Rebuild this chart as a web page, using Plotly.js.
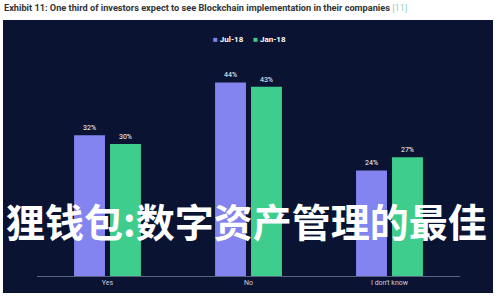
<!DOCTYPE html>
<html><head><meta charset="utf-8">
<script src="https://cdn.plot.ly/plotly-3.0.1.min.js"></script>
<style>html,body{margin:0;padding:0;background:#fff}#c{width:500px;height:300px}</style>
</head><body><div id="c"></div>
<script>
var categories = ["Yes", "No", "I don't know"];
var jul18 = [32, 44, 24];
var jan18 = [30, 43, 27];
var seriesNames = ["Jul-18", "Jan-18"];
var seriesColors = ["#8384f0", "#3ecd8c"];
var titleText = "Exhibit 11: One third of investors expect to see Blockchain implementation in their companies";
var refText = "[11]";
var overlayText = "狸钱包:数字资产管理的最佳";

function lbl(v){return v.map(function(x){return x+"%";});}
var traces = [
  {type:"bar", x:categories, y:jul18, name:seriesNames[0], marker:{color:seriesColors[0]},
   text:lbl(jul18), textposition:"outside", textfont:{color:"#ffffff", size:7, family:"Roboto"}, cliponaxis:false},
  {type:"bar", x:categories, y:jan18, name:seriesNames[1], marker:{color:seriesColors[1]},
   text:lbl(jan18), textposition:"outside", textfont:{color:"#ffffff", size:7, family:"Roboto"}, cliponaxis:false}
];
var legendText = "<span style='color:"+seriesColors[0]+"'>■</span> <b>"+seriesNames[0]+"</b>     " +
                 "<span style='color:"+seriesColors[1]+"'>■</span> <b>"+seriesNames[1]+"</b>";
var layout = {
  width:500, height:300,
  margin:{l:37, r:40, t:56, b:24},
  paper_bgcolor:"#ffffff", plot_bgcolor:"rgba(0,0,0,0)",
  barmode:"group", bargap:0.49, bargroupgap:0.14,
  showlegend:false,
  xaxis:{range:[-0.5,2.5], showline:true, linecolor:"#5a6584", linewidth:1, ticks:"",
    tickfont:{color:"#c8cde0", size:7, family:"Roboto"}, showgrid:false, zeroline:false},
  yaxis:{range:[0,50], visible:false, showgrid:false, zeroline:false},
  shapes:[{type:"rect", xref:"paper", yref:"paper", layer:"below",
    x0:-34/423, x1:456/423, y0:-17/220, y1:1+36/220, fillcolor:"#0a1432", line:{width:0}}],
  annotations:[
    {xref:"paper", yref:"paper", x:-35/423, y:1+49/220, xanchor:"left", yanchor:"middle", showarrow:false,
     text:"<b>"+titleText+"</b> <span style='color:#8fd3c8'>"+refText+"</span>",
     font:{color:"#333333", size:9.2, family:"Roboto"}},
    {xref:"paper", yref:"paper", x:(250-37)/423, y:1+16/220, xanchor:"center", yanchor:"middle", showarrow:false,
     text:legendText, font:{color:"#ffffff", size:8, family:"Roboto"}},
    {xref:"paper", yref:"paper", x:-33/423, y:(276-220)/220, xanchor:"left", yanchor:"middle", showarrow:false,
     text:"<b>"+overlayText+"</b>", font:{color:"#ffffff", size:39, family:"Noto Sans CJK SC"}}
  ]
};
Plotly.newPlot("c", traces, layout, {displayModeBar:false, staticPlot:true});
</script></body></html>
